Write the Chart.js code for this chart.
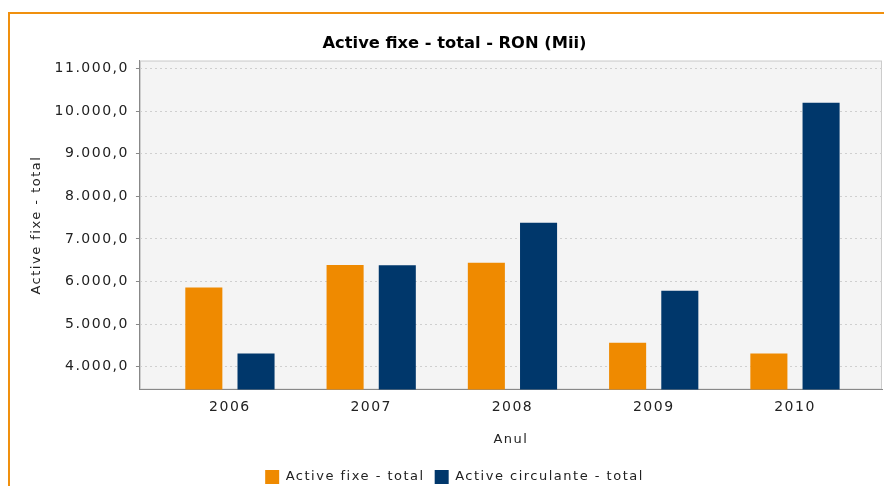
<!DOCTYPE html>
<html>
<head>
<meta charset="utf-8">
<script src="https://cdn.jsdelivr.net/npm/chart.js@4.4.0/dist/chart.umd.min.js"></script>
<style>
  html, body { margin: 0; padding: 0; background: #fff; overflow: hidden; }
  #frame { position: absolute; left: 8px; top: 12px; width: 900px; height: 500px;
           border-left: 2px solid #f0900e; border-top: 2px solid #f0900e; }
  #c { position: absolute; left: 10px; top: 14px; }
</style>
</head>
<body>
<div id="frame"></div>
<canvas id="c" width="886" height="480"></canvas>
<script>
// data
const years = ["2006", "2007", "2008", "2009", "2010"];
const activeFixe = [5860, 6390, 6440, 4560, 4310];
const activeCirculante = [4310, 6380, 7380, 5780, 10200];
const yTicks = [4000, 5000, 6000, 7000, 8000, 9000, 10000, 11000];

const FONT = "'DejaVu Sans', sans-serif";
const LS = "1.5px";

function fmt(v) {
  let s = Math.round(v).toString().replace(/\B(?=(\d{3})+(?!\d))/g, ".");
  return s + ",0";
}

// plot background + outline, and the spaced-out lettering
const plotBg = {
  id: "plotBg",
  beforeUpdate(chart) { chart.ctx.letterSpacing = LS; },
  beforeDraw(chart) {
    const ctx = chart.ctx, a = chart.chartArea;
    ctx.letterSpacing = LS;
    // title is drawn without the extra spacing
    const tb = chart.titleBlock;
    if (tb && !tb._wrapped) {
      const d = tb.draw.bind(tb);
      tb.draw = function(area) {
        const old = chart.ctx.letterSpacing;
        chart.ctx.letterSpacing = "0px";
        d(area);
        chart.ctx.letterSpacing = old;
      };
      tb._wrapped = true;
    }
    ctx.save();
    ctx.fillStyle = "#f4f4f4";
    ctx.fillRect(a.left, a.top, a.right - a.left, a.bottom - a.top);
    ctx.strokeStyle = "#cccccc";
    ctx.lineWidth = 1;
    ctx.strokeRect(a.left + 0.5, a.top + 0.5, a.right - a.left - 1, a.bottom - a.top - 1);
    ctx.restore();
  }
};

let ctx = document.getElementById("c").getContext("2d");
let chart = new Chart(ctx, {
  type: "bar",
  data: {
    datasets: [{
      label: "Active fixe - total",
      data: activeFixe.map((v, i) => ({ x: i, y: v })),
      backgroundColor: "#ef8a00"
    }, {
      label: "Active circulante - total",
      data: activeCirculante.map((v, i) => ({ x: i, y: v })),
      backgroundColor: "#00376b"
    }]
  },
  options: {
    responsive: false,
    animation: false,
    categoryPercentage: 0.739,
    barPercentage: 0.71,
    layout: { padding: { left: 17, right: 14, top: 20, bottom: 0 } },
    plugins: {
      title: {
        display: true,
        text: "Active fixe - total - RON (Mii)",
        color: "#000",
        font: { family: FONT, size: 16.3, weight: "bold" },
        padding: { top: 0, bottom: 7 }
      },
      legend: {
        position: "bottom",
        labels: {
          boxWidth: 14, boxHeight: 14, padding: 10, color: "#222",
          font: { family: FONT, size: 13 }
        }
      },
      tooltip: { enabled: false }
    },
    scales: {
      x: {
        type: "linear",
        min: -0.637,
        max: 4.616,
        offset: false,
        afterBuildTicks: s => { s.ticks = years.map((y, i) => ({ value: i })); },
        grid: { display: false, drawTicks: false },
        border: { display: true, color: "#888" },
        ticks: { padding: 9, color: "#222", font: { family: FONT, size: 14 },
                 callback: v => years[v] },
        title: { display: true, text: "Anul", color: "#222",
                 font: { family: FONT, size: 13 }, padding: { top: 7, bottom: 13 } }
      },
      y: {
        min: 3460,
        max: 11190,
        afterBuildTicks: s => { s.ticks = yTicks.map(v => ({ value: v })); },
        grid: { color: "#cfcfcf", tickColor: "#888", tickLength: 4, tickBorderDash: [] },
        border: { display: true, color: "#888", dash: [2, 3] },
        ticks: { padding: 7, color: "#222", font: { family: FONT, size: 14 },
                 callback: v => fmt(v) },
        title: { display: true, text: "Active fixe - total", color: "#222",
                 font: { family: FONT, size: 13 }, padding: { top: 2, bottom: 3 } }
      }
    }
  },
  plugins: [plotBg]
});
</script>
</body>
</html>
